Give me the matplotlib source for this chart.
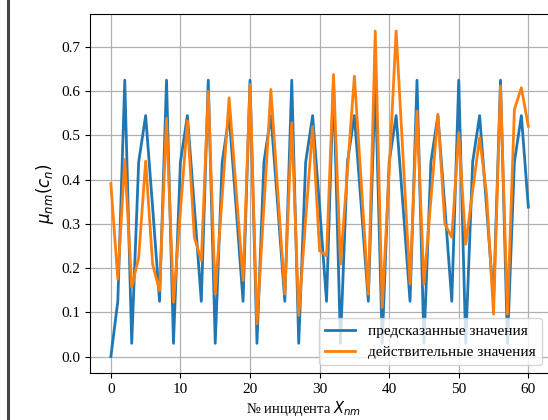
import matplotlib
matplotlib.use("Agg")
import matplotlib.pyplot as plt
from matplotlib.lines import Line2D

incidents = list(range(61))
predicted = [0.0, 0.125, 0.625, 0.03, 0.44, 0.545, 0.338, 0.125, 0.625, 0.03,
             0.44, 0.545, 0.338, 0.125, 0.625, 0.03, 0.44, 0.545, 0.338, 0.125,
             0.625, 0.03, 0.44, 0.545, 0.338, 0.125, 0.625, 0.03, 0.44, 0.545,
             0.338, 0.125, 0.625, 0.03, 0.44, 0.545, 0.338, 0.125, 0.625, 0.03,
             0.44, 0.545, 0.338, 0.125, 0.625, 0.03, 0.44, 0.545, 0.338, 0.125,
             0.625, 0.03, 0.44, 0.545, 0.338, 0.125, 0.625, 0.03, 0.44, 0.545,
             0.338]
actual = [0.391, 0.175, 0.446, 0.157, 0.224, 0.442, 0.209, 0.149, 0.539, 0.123,
          0.33, 0.533, 0.27, 0.217, 0.6, 0.141, 0.363, 0.585, 0.378, 0.172,
          0.615, 0.074, 0.34, 0.604, 0.37, 0.141, 0.529, 0.093, 0.31, 0.52,
          0.239, 0.228, 0.638, 0.209, 0.42, 0.634, 0.39, 0.141, 0.736, 0.111,
          0.42, 0.736, 0.45, 0.164, 0.555, 0.164, 0.356, 0.548, 0.3, 0.27,
          0.506, 0.254, 0.375, 0.495, 0.367, 0.096, 0.612, 0.096, 0.559, 0.608,
          0.521]
yticks = [0.0, 0.1, 0.2, 0.3, 0.4, 0.5, 0.6, 0.7]
xticks = [0, 10, 20, 30, 40, 50, 60]

plt.rcParams['font.family'] = ['Liberation Serif', 'DejaVu Serif']
plt.rcParams['mathtext.fontset'] = 'dejavusans'

fig = plt.figure(figsize=(5.48, 4.2), dpi=100)
ax = fig.add_axes([0.1642, 0.112, 0.838, 0.855])

ax.plot(incidents, predicted, color='#1f77b4', lw=2.0, label='предсказанные значения')
ax.plot(incidents, actual, color='#ff7f0e', lw=2.0, label='действительные значения')

ax.set_xlim(-3, 63)
ax.set_ylim(-0.037, 0.775)
ax.set_xticks(xticks)
ax.set_yticks(yticks)
ax.set_yticklabels([f"{v:.1f}" for v in yticks])
ax.tick_params(labelsize=11)
ax.grid(True, color='#b0b0b0', lw=0.9)
ax.set_axisbelow(True)

ax.set_xlabel('№ инцидента $X_{nm}$', fontsize=10.5)
ax.xaxis.set_label_coords(0.466, -0.073)
ax.set_ylabel(r'$\mu_{nm}(c_n)$', fontsize=12)

ax.legend(loc='lower right', fontsize=11, borderaxespad=0.5)

fig.add_artist(Line2D([7.5 / 548, 7.5 / 548], [0, 1], color='#444444', lw=2.2,
                      transform=fig.transFigure))

fig.savefig('out.png', dpi=100)
